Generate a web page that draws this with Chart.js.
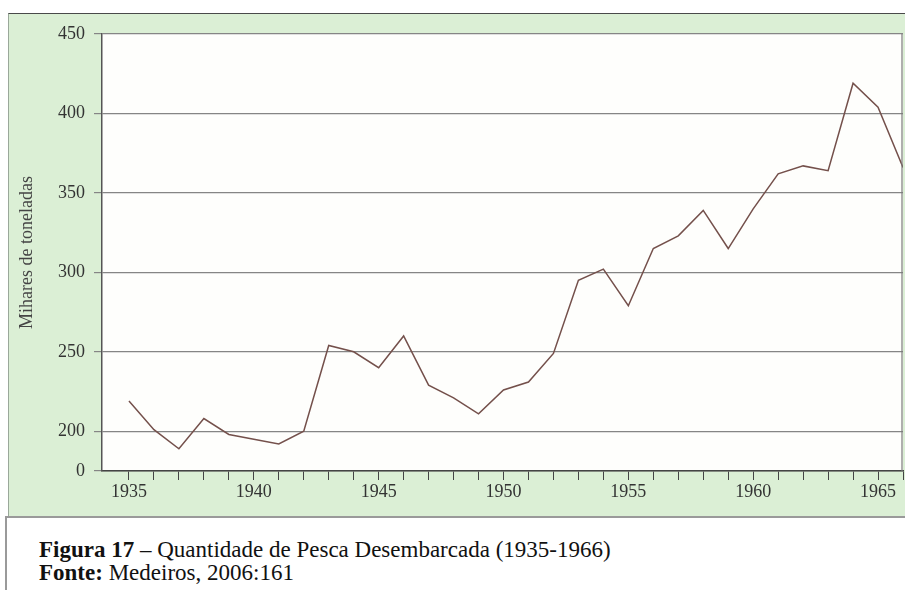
<!DOCTYPE html>
<html>
<head>
<meta charset="utf-8">
<script src="https://cdn.jsdelivr.net/npm/chart.js@4/dist/chart.umd.min.js"></script>
<style>
  html, body { margin: 0; padding: 0; background: #fff; }
  body { width: 905px; height: 590px; position: relative; overflow: hidden; font-family: "Liberation Serif", serif; }
  #panel {
    position: absolute; left: 8px; top: 13px; width: 905px; height: 502px;
    background: #dbefd5; border-top: 1px solid #4a4a4a; border-left: 1px solid #9aa89a;
  }
  #chartBox { position: absolute; left: 0; top: 0; width: 905px; height: 515px; }
  #caption {
    position: absolute; left: 5px; top: 516px; width: 900px; height: 74px;
    border-top: 2px solid #9a9a9a; border-left: 2px solid #9a9a9a;
  }
  #caption p { margin: 0; position: absolute; left: 32px; font-size: 23px; line-height: 24px; color: #111; white-space: nowrap; }
  #caption b { font-weight: bold; }
</style>
</head>
<body>
<div id="panel"></div>
<div id="chartBox"><canvas id="fishChart"></canvas></div>
<div id="caption">
  <p style="top:20px"><b>Figura 17</b> – Quantidade de Pesca Desembarcada (1935-1966)</p>
  <p style="top:43px"><b>Fonte:</b> Medeiros, 2006:161</p>
</div>
<script>
// anos e quantidades (milhares de toneladas)
const years = [1935, 1936, 1937, 1938, 1939, 1940, 1941, 1942, 1943, 1944, 1945,
               1946, 1947, 1948, 1949, 1950, 1951, 1952, 1953, 1954, 1955, 1956,
               1957, 1958, 1959, 1960, 1961, 1962, 1963, 1964, 1965, 1966];
const landed = [219, 201, 189, 208, 198, 195, 192, 200, 254, 250, 240,
                260, 229, 221, 211, 226, 231, 249, 295, 302, 279, 315,
                323, 339, 315, 340, 362, 367, 364, 419, 404, 366];
const yTicks = [175, 200, 250, 300, 350, 400, 450]; // 175 = quebra do eixo, mostrado como "0"
const xLabelYears = [1935, 1940, 1945, 1950, 1955, 1960, 1965];

const plotBorder = {
  id: 'plotBorder',
  beforeDraw(chart) {
    const { ctx, chartArea: a } = chart;
    ctx.save();
    ctx.fillStyle = '#fefefc';
    ctx.fillRect(a.left, a.top, a.right - a.left, a.bottom - a.top);
    ctx.restore();
  },
  afterDraw(chart) {
    const { ctx, chartArea: a } = chart;
    ctx.save();
    ctx.strokeStyle = '#7a7a7a';
    ctx.lineWidth = 1.2;
    ctx.beginPath();
    ctx.moveTo(a.right - 1, a.top);
    ctx.lineTo(a.right - 1, a.bottom);
    ctx.stroke();
    ctx.restore();
  }
};

const ctx = document.getElementById('fishChart').getContext('2d');
new Chart(ctx, {
  type: 'line',
  data: {
    datasets: [{
      data: years.map((y, i) => ({ x: y, y: landed[i] })),
      borderColor: '#74504b',
      borderWidth: 1.5,
      pointRadius: 0,
      tension: 0,
      fill: false
    }]
  },
  options: {
    responsive: true,
    maintainAspectRatio: false,
    animation: false,
    layout: { padding: { left: 8, right: 2, top: 34, bottom: 0 } },
    plugins: { legend: { display: false }, tooltip: { enabled: false } },
    scales: {
      x: {
        type: 'linear',
        min: 1933.92,
        max: 1966,
        afterBuildTicks: (scale) => { scale.ticks = years.map(v => ({ value: v })); },
        afterFit: (scale) => { scale.height = 44; },
        grid: { drawOnChartArea: false, drawTicks: true, tickLength: 9, color: '#444', lineWidth: 1 },
        border: { display: true, color: '#444', width: 1.5 },
        ticks: {
          padding: 1,
          maxRotation: 0,
          autoSkip: false,
          color: '#333',
          font: { family: 'Liberation Serif', size: 18 },
          callback: (v) => xLabelYears.includes(v) ? String(v) : ''
        }
      },
      y: {
        min: 175,
        max: 450,
        afterBuildTicks: (scale) => { scale.ticks = yTicks.map(v => ({ value: v })); },
        afterFit: (scale) => { scale.width = 94; },
        grid: { color: '#858585', lineWidth: 1.2, tickLength: 8, drawTicks: true },
        border: { display: true, color: '#555', width: 1.5 },
        ticks: {
          padding: 9,
          color: '#333',
          font: { family: 'Liberation Serif', size: 18 },
          callback: (v) => v === 175 ? '0' : String(v)
        },
        title: {
          display: true,
          text: 'Mihares de toneladas',
          color: '#444',
          font: { family: 'Liberation Serif', size: 18 },
          padding: { top: 8, bottom: 0 }
        }
      }
    }
  },
  plugins: [plotBorder]
});
</script>
</body>
</html>
